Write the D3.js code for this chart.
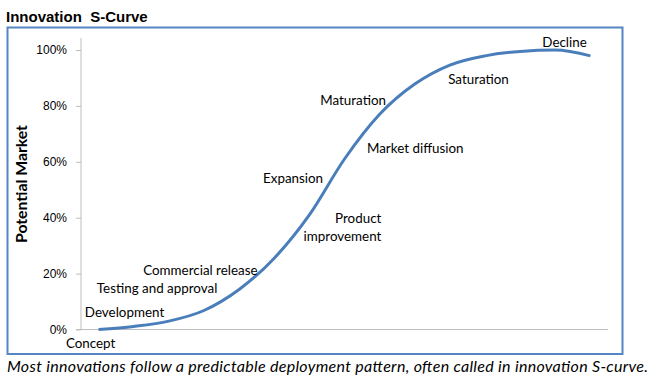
<!DOCTYPE html>
<html>
<head>
<meta charset="utf-8">
<script src="https://cdn.jsdelivr.net/npm/d3@7"></script>
<style>
  html, body { margin: 0; padding: 0; background: #fff; }
  svg { display: block; }
</style>
</head>
<body>
<svg id="chart" width="657" height="381"></svg>
<script>
// ---- data ----
const stageIndex = [0, 1, 2, 3, 4, 5, 6, 7, 8, 9, 10, 11, 12, 13, 14];
const potentialMarket = [0, 1.1, 3.0, 6.8, 14.3, 25.5, 41.0, 61.0, 77.0, 87.8, 94.6, 97.9, 99.5, 100, 97.9];
const yTicks = [0, 20, 40, 60, 80, 100];

// annotation labels, anchored in data units (stage index, % market)
const labelText  = ["Concept", "Development", "Testing and approval", "Commercial release",
                    "Product", "improvement", "Expansion", "Market diffusion",
                    "Maturation", "Saturation", "Decline"];
const labelStage = [-0.93, -0.39, -0.05, 1.27, 8.05, 8.05, 4.68, 7.64, 6.31, 9.95, 12.63];
const labelValue = [-4.9, 6.0, 14.8, 21.0, 39.8, 33.5, 54.2, 64.9, 82.1, 89.6, 102.9];
const labelAnchor = ["start", "start", "start", "start", "end", "end", "start", "start", "start", "start", "start"];

const titleText = "Innovation\u00a0\u00a0S-Curve";
const yTitle = "Potential Market";
const captionText = "Most innovations follow a predictable deployment pattern, often called in innovation S-curve.";

// ---- layout ----
const svg = d3.select("#chart");
const plot = { left: 81, right: 608, top: 50, bottom: 329.5 };

const x = d3.scaleBand()
  .domain(stageIndex)
  .range([plot.left, plot.right]);
const xPos = i => plot.left + x.bandwidth() * (i + 0.5);

const y = d3.scaleLinear()
  .domain([0, 100])
  .range([plot.bottom, plot.top]);

// title
svg.append("text")
  .attr("x", 6).attr("y", 22)
  .attr("font-family", "Liberation Sans, Arial, sans-serif")
  .attr("font-weight", "bold")
  .attr("font-size", 15)
  .attr("fill", "#000")
  .text(titleText);

// frame
svg.append("rect")
  .attr("x", 7.5).attr("y", 27.5)
  .attr("width", 615).attr("height", 326.5)
  .attr("fill", "none")
  .attr("stroke", "#5585C3")
  .attr("stroke-width", 2);

// y axis
const yAxis = d3.axisLeft(y)
  .tickValues(yTicks)
  .tickFormat(d => d + "%")
  .tickSize(5)
  .tickPadding(9);

const gy = svg.append("g")
  .attr("transform", `translate(${plot.left},0)`)
  .call(yAxis);
gy.select(".domain").attr("stroke", "#BEBEBE").attr("d", `M-5,${plot.bottom}H0V${plot.top - 12}`);
gy.selectAll(".tick line").attr("stroke", "#BEBEBE");
gy.selectAll(".tick text")
  .attr("font-family", "Liberation Sans, Arial, sans-serif")
  .attr("font-size", 12)
  .attr("fill", "#000");

// x axis line
svg.append("line")
  .attr("x1", plot.left).attr("x2", plot.right)
  .attr("y1", y(0)).attr("y2", y(0))
  .attr("stroke", "#BEBEBE")
  .attr("stroke-width", 1);

// y axis title
svg.append("text")
  .attr("transform", `translate(27,${(125 + 243) / 2}) rotate(-90)`)
  .attr("text-anchor", "middle")
  .attr("font-family", "Lato, sans-serif")
  .attr("font-weight", "bold")
  .attr("font-size", 15)
  .attr("textLength", 118)
  .attr("lengthAdjust", "spacingAndGlyphs")
  .attr("fill", "#000")
  .text(yTitle);

// curve
const line = d3.line()
  .x((d, i) => xPos(stageIndex[i]))
  .y(d => y(d))
  .curve(d3.curveMonotoneX);

svg.append("path")
  .datum(potentialMarket)
  .attr("d", line)
  .attr("fill", "none")
  .attr("stroke", "#4A7EBB")
  .attr("stroke-width", 3)
  .attr("stroke-linecap", "butt");

// annotations
svg.append("g").selectAll("text")
  .data(labelText)
  .join("text")
  .attr("x", (d, i) => xPos(labelStage[i]))
  .attr("y", (d, i) => y(labelValue[i]))
  .attr("dy", "0.35em")
  .attr("text-anchor", (d, i) => labelAnchor[i])
  .attr("font-family", "Lato, sans-serif")
  .attr("font-size", 13.4)
  .attr("fill", "#000")
  .text(d => d);

// caption
svg.append("text")
  .attr("x", 7).attr("y", 371.5)
  .attr("font-family", "Lato, sans-serif")
  .attr("font-style", "italic")
  .attr("font-size", 16)
  .attr("textLength", 641)
  .attr("lengthAdjust", "spacing")
  .attr("fill", "#000")
  .text(captionText);
</script>
</body>
</html>
